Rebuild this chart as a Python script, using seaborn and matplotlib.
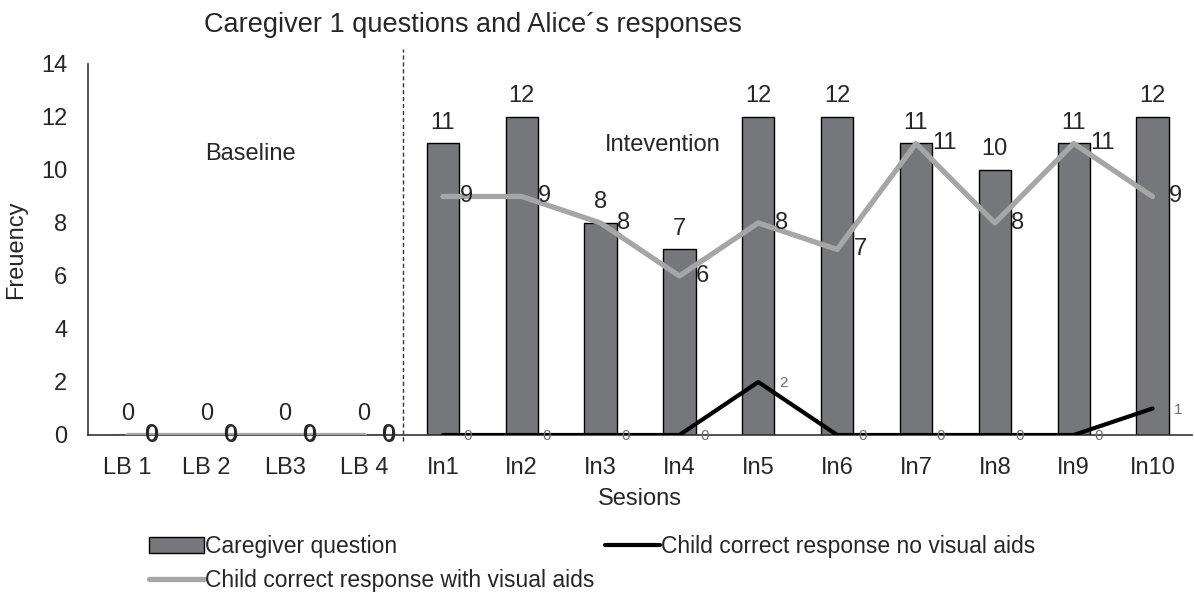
import numpy as np
import pandas as pd
import matplotlib
matplotlib.use("Agg")
from matplotlib import pyplot as plt
from matplotlib.patches import Patch
from matplotlib.lines import Line2D
import seaborn as sns

# Data
sessions = ["LB 1", "LB 2", "LB3", "LB 4", "In1", "In2", "In3", "In4", "In5",
            "In6", "In7", "In8", "In9", "In10"]
phase = ["Baseline"] * 4 + ["Intervention"] * 10
caregiver_question = [0, 0, 0, 0, 11, 12, 8, 7, 12, 12, 11, 10, 11, 12]
with_visual_aids = [0, 0, 0, 0, 9, 9, 8, 6, 8, 7, 11, 8, 11, 9]
no_visual_aids = [0, 0, 0, 0, 0, 0, 0, 0, 2, 0, 0, 0, 0, 1]

df = pd.DataFrame({
    "session": sessions,
    "pos": np.arange(len(sessions)),
    "phase": phase,
    "question": caregiver_question,
    "with_aids": with_visual_aids,
    "no_aids": no_visual_aids,
})

sns.set_theme(style="white")
plt.rcParams["font.family"] = ["Liberation Sans", "DejaVu Sans"]

bar_color = "#76777a"
grey_line = "#a6a6a6"
text_color = "#262626"

fig = plt.figure(figsize=(11.94, 5.99), dpi=100)
ax = fig.add_axes([0.0737, 0.2738, 0.9246, 0.6194])

# bars
sns.barplot(data=df, x="session", y="question", order=sessions, color=bar_color,
            saturation=1, width=0.41, edgecolor="black", linewidth=1, ax=ax)

# lines, one segment per phase so baseline and intervention are not joined
for ph in ["Baseline", "Intervention"]:
    sub = df[df["phase"] == ph]
    sns.lineplot(data=sub, x="pos", y="with_aids", color=grey_line, linewidth=3.8,
                 estimator=None, sort=False, ax=ax, zorder=4)
    if ph == "Intervention":
        sns.lineplot(data=sub, x="pos", y="no_aids", color="black", linewidth=3,
                     estimator=None, sort=False, ax=ax, zorder=5)

# data labels
for i, row in df.iterrows():
    ax.annotate(str(row["question"]), (row["pos"], row["question"]),
                xytext=(0, 7), textcoords="offset points", ha="center",
                va="bottom", fontsize=17, color=text_color)
    ax.annotate(str(row["with_aids"]), (row["pos"], row["with_aids"]),
                xytext=(12, 0), textcoords="offset points", ha="left",
                va="center", fontsize=17, color=text_color, zorder=6)
    if row["phase"] == "Baseline":
        ax.annotate(str(row["no_aids"]), (row["pos"], row["no_aids"]),
                    xytext=(13, -0.5), textcoords="offset points", ha="left",
                    va="center", fontsize=17, color=text_color, zorder=6)
    else:
        ax.annotate(str(row["no_aids"]), (row["pos"], row["no_aids"]),
                    xytext=(15, -1), textcoords="offset points", ha="left",
                    va="center", fontsize=11, color="#6d6d6d", zorder=6)

# phase change line and phase names
ax.axvline(3.5, ymin=-0.015, ymax=1.04, color="#333333", linestyle=(0, (3, 2)),
           linewidth=1, clip_on=False)
ax.text(1.56, 10.6, "Baseline", ha="center", va="center", fontsize=17, color=text_color)
ax.text(6.79, 10.95, "Intevention", ha="center", va="center", fontsize=17, color=text_color)

ax.set_ylim(0, 14)
ax.set_xlim(-0.5, len(sessions) - 0.5)
ax.set_yticks(range(0, 15, 2))
ax.tick_params(axis="both", labelsize=17, colors=text_color, length=0)
ax.tick_params(axis="y", pad=15)
ax.tick_params(axis="x", pad=16)
ax.set_xlabel("Sesions", fontsize=17, color=text_color, labelpad=6)
ax.set_ylabel("Freuency", fontsize=17, color=text_color, labelpad=10)
sns.despine(ax=ax)
for s in ["left", "bottom"]:
    ax.spines[s].set_color("#333333")
    ax.spines[s].set_linewidth(1.2)

fig.text(0.396, 0.958, "Caregiver 1 questions and Alice\u00b4s responses",
         ha="center", va="center", fontsize=19.5, color=text_color)

handles = [
    Patch(facecolor=bar_color, edgecolor="black", linewidth=1),
    Line2D([0], [0], color=grey_line, linewidth=3.8),
    Line2D([0], [0], color="black", linewidth=3),
]
labels = ["Caregiver question", "Child correct response with visual aids",
          "Child correct response no visual aids"]
fig.legend(handles, labels, ncol=2, loc="upper left", bbox_to_anchor=(0.125, 0.107),
           frameon=False, fontsize=16.5, handlelength=2.4, handletextpad=0.05,
           columnspacing=0.45, labelspacing=0.5, borderaxespad=0, borderpad=0)

fig.savefig("out.png", dpi=100)
